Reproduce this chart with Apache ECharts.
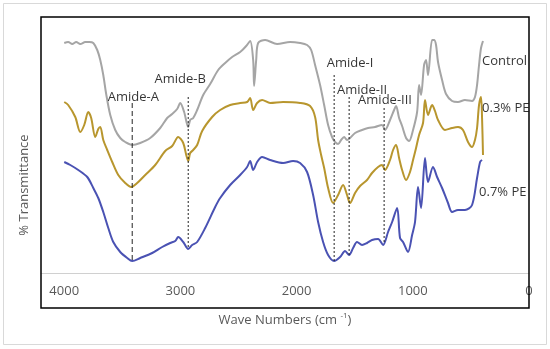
<!DOCTYPE html>
<html>
<head>
<meta charset="utf-8">
<script src="https://cdn.jsdelivr.net/npm/echarts@6/dist/echarts.min.js"></script>
<style>html,body{margin:0;padding:0;background:#fff}#c{width:550px;height:349px}</style>
</head>
<body>
<div id="c"></div>
<script>
// Wavenumber (cm-1) and relative % transmittance (arbitrary offset units)
const controlData = [
[4000,230],[3966,231],[3931,229],[3897,231],[3862,229],[3819,231],[3785,231],[3750,230],[3716,223],[3690,213],
[3664,198],[3639,179],[3604,158],[3561,143],[3518,135],[3475,131],[3415,128],[3346,130],[3260,135],[3174,145],
[3114,155],[3071,159],[3028,164],[3002,170],[2968,161],[2933,146],[2916,153],[2890,155],[2856,163],[2804,178],
[2744,189],[2675,203],[2615,210],[2555,216],[2486,221],[2434,227],[2400,232],[2374,213],[2366,187],[2348,213],
[2331,230],[2271,233],[2168,229],[2056,231],[1970,230],[1910,228],[1875,223],[1841,208],[1798,188],[1763,168],
[1729,148],[1695,136],[1669,131],[1643,129],[1617,133],[1591,136],[1566,133],[1540,135],[1497,140],[1437,143],
[1385,145],[1325,146],[1265,148],[1239,143],[1196,153],[1161,163],[1144,167],[1118,155],[1092,147],[1058,135],
[1032,132],[998,143],[963,161],[946,188],[929,178],[903,208],[886,213],[869,198],[834,233],[817,233],
[800,228],[783,211],[748,193],[714,179],[662,172],[611,171],[551,173],[490,172],[465,176],[447,188],
[430,208],[413,225],[396,232]
];
const pe03Data = [
[4000,171],[3966,168],[3905,156],[3862,141],[3828,148],[3793,161],[3768,155],[3733,136],[3707,144],[3690,146],
[3664,133],[3630,123],[3587,111],[3535,98],[3475,90],[3424,86],[3372,90],[3303,98],[3217,108],[3131,122],
[3071,127],[3019,136],[2976,130],[2950,118],[2933,112],[2916,120],[2890,123],[2856,128],[2813,142],[2727,156],
[2658,163],[2572,168],[2486,170],[2426,171],[2400,175],[2374,163],[2340,170],[2297,173],[2228,170],[2116,171],
[1970,170],[1884,167],[1841,156],[1815,133],[1789,118],[1763,105],[1729,85],[1686,70],[1643,78],[1600,88],
[1566,78],[1540,70],[1497,80],[1454,87],[1394,93],[1351,100],[1299,106],[1265,108],[1239,103],[1196,113],
[1170,123],[1144,128],[1118,115],[1092,103],[1058,93],[1024,101],[998,113],[972,125],[946,138],[912,150],
[895,173],[869,158],[834,168],[809,162],[783,153],[723,143],[662,145],[611,146],[568,143],[525,131],
[490,126],[465,133],[447,145],[430,168],[413,176],[404,155],[396,118]
];
const pe07Data = [
[4000,111],[3948,108],[3879,103],[3802,96],[3750,85],[3707,75],[3664,61],[3621,45],[3578,31],[3518,21],
[3458,15],[3415,12],[3346,15],[3243,20],[3157,26],[3088,30],[3045,32],[3019,36],[2976,31],[2933,24],
[2899,28],[2856,31],[2787,45],[2701,66],[2658,75],[2572,88],[2486,98],[2426,106],[2400,112],[2374,103],
[2340,111],[2297,116],[2228,113],[2116,110],[2030,112],[1970,110],[1910,101],[1858,78],[1815,51],[1772,31],
[1729,18],[1677,12],[1626,16],[1583,22],[1548,18],[1514,25],[1480,31],[1437,28],[1394,30],[1351,33],
[1299,34],[1256,28],[1213,41],[1178,51],[1135,65],[1110,35],[1084,31],[1041,21],[1006,38],[981,51],
[955,86],[929,65],[895,115],[869,91],[826,106],[791,96],[748,85],[697,70],[662,61],[611,63],
[551,63],[490,68],[447,95],[421,111],[404,113]
];
const seriesNames = ['Control', '0.3% PE', '0.7% PE'];
// Amide band markers: name, wavenumber, top, bottom, label anchor [wn, value]
const amideNames = ['Amide-A', 'Amide-B', 'Amide-I', 'Amide-II', 'Amide-III'];
const amideWn = [3415, 2933, 1677, 1548, 1247];
const amideTop = [170, 176, 198, 176, 165];
const amideBottom = [13, 25, 12, 18, 31];
const amideLabelAt = [[3406,176],[3002,194],[1540,210],[1437,183],[1239,173]];
const seriesLabelAt = [[404,212],[404,165],[430,81]];
const xTicks = [0, 1000, 2000, 3000, 4000];

const FONT = '"Open Sans", sans-serif';
const colors = ['#A5A5A5', '#B8962E', '#4A52B3'];
const chart = echarts.init(document.getElementById('c'), null, {renderer: 'canvas'});

const series = [];
[controlData, pe03Data, pe07Data].forEach((d, i) => {
  series.push({
    type: 'line', name: seriesNames[i], data: d, showSymbol: false, smooth: 0.3,
    lineStyle: {color: colors[i], width: 2}, z: 3, animation: false
  });
});
amideNames.forEach((n, i) => {
  series.push({
    type: 'line', data: [[amideWn[i], amideTop[i]], [amideWn[i], amideBottom[i]]],
    showSymbol: false, silent: true, animation: false, z: 4,
    lineStyle: {color: '#222', width: 1, type: i === 0 ? [5, 3] : [2, 2]}
  });
});
series.push({
  type: 'scatter', symbolSize: 0, animation: false, silent: true, z: 5,
  data: amideLabelAt.map((p, i) => ({value: p, name: amideNames[i]})),
  label: {show: true, position: 'inside', formatter: p => p.name, color: '#000', fontSize: 13, fontFamily: FONT}
});
series.push({
  type: 'scatter', symbolSize: 0, animation: false, silent: true, z: 5,
  data: seriesLabelAt.map((p, i) => ({value: p, name: seriesNames[i]})),
  label: {show: true, position: 'right', distance: 0, formatter: p => p.name, color: '#000', fontSize: 13, fontFamily: FONT}
});

chart.setOption({
  animation: false,
  backgroundColor: '#fff',
  grid: {left: 41, right: 21, top: 17, bottom: 76, containLabel: false},
  xAxis: {
    type: 'value', inverse: true, min: 0, max: 4200, interval: 1000,
    axisLine: {show: true, lineStyle: {color: '#D0D0D0', width: 1}},
    axisTick: {show: false}, splitLine: {show: false},
    axisLabel: {
      color: '#595959', fontSize: 13, fontFamily: FONT, margin: 12,
      formatter: v => (xTicks.indexOf(v) >= 0 ? String(v) : '')
    }
  },
  yAxis: {
    type: 'value', min: 0, max: 256,
    axisLine: {show: false}, axisTick: {show: false}, splitLine: {show: false}, axisLabel: {show: false}
  },
  graphic: [
    {type: 'rect', shape: {x: 3.5, y: 3.5, width: 543, height: 341}, style: {fill: 'none', stroke: '#D9D9D9', lineWidth: 1}, silent: true, z: 0},
    {type: 'rect', shape: {x: 41, y: 17, width: 488, height: 291}, style: {fill: 'none', stroke: '#000', lineWidth: 1.5}, silent: true, z: 10},
    {type: 'text', x: 24, y: 185, rotation: Math.PI / 2, silent: true, z: 10,
      style: {text: '% Transmittance', fontSize: 13, fontFamily: FONT, fill: '#595959', textAlign: 'center', textVerticalAlign: 'middle'}},
    {type: 'text', x: 285, y: 320, silent: true, z: 10,
      style: {
        text: '{a|Wave Numbers (cm }{s|-1}{a|)}', textAlign: 'center', textVerticalAlign: 'middle',
        rich: {a: {fontSize: 13, fontFamily: FONT, fill: '#595959', color: '#595959'},
               s: {fontSize: 8, fontFamily: FONT, color: '#595959', fill: '#595959', verticalAlign: 'top', padding: [0, 0, 8, 0]}}
      }}
  ],
  series: series
});
</script>
</body>
</html>
